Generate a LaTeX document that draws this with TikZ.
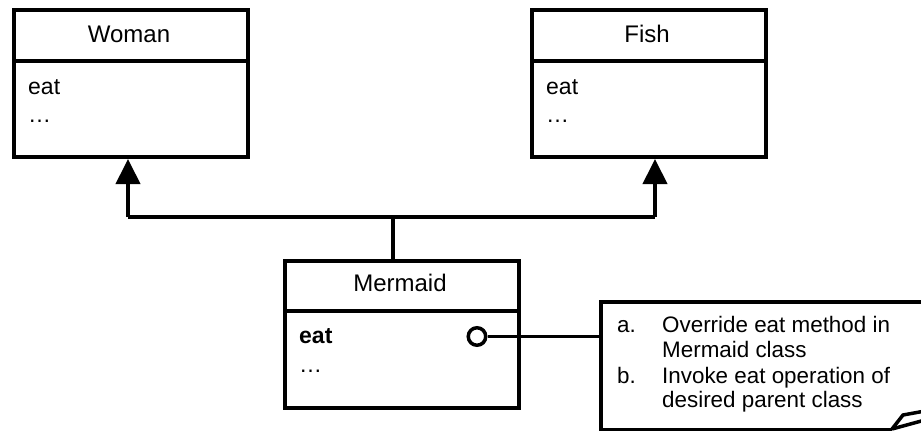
\documentclass[tikz,border=0pt]{standalone}
\usepackage{fontspec}
\setmainfont{Liberation Sans}
\usetikzlibrary{arrows.meta}
\begin{document}
\begin{tikzpicture}[x=1pt,y=-1pt,
  box/.style={draw,line width=4pt,inner sep=0pt,anchor=north west},
  cname/.style={anchor=base,font=\fontsize{24}{28}\selectfont,inner sep=0pt},
  member/.style={anchor=base west,font=\fontsize{23}{28}\selectfont,inner sep=0pt},
  notetext/.style={anchor=base west,font=\fontsize{22.4}{25}\selectfont,inner sep=0pt},
  link/.style={line width=4pt},
  inherit/.style={link,-{Triangle[length=25pt,width=24pt]}}]
\clip (0,0) rectangle (921,431);
\useasboundingbox (0,0) rectangle (921,431);
% Woman
\node[box,minimum width=234pt,minimum height=147pt] (woman) at (12,8) {};
\draw[line width=4pt] (12,61) -- (246,61);
\node[cname] (womanname) at (129,42) {Woman};
\node[member] (womaneat) at (28,94) {eat};
\node[member] (womandots) at (28,122) {\dots};
% Fish
\node[box,minimum width=234pt,minimum height=147pt] (fish) at (530,8) {};
\draw[line width=4pt] (530,61) -- (764,61);
\node[cname] (fishname) at (647,42) {Fish};
\node[member] (fisheat) at (546,94) {eat};
\node[member] (fishdots) at (546,122) {\dots};
% Mermaid
\node[box,minimum width=234pt,minimum height=147pt] (mermaid) at (283,259) {};
\draw[line width=4pt] (283,311) -- (517,311);
\node[cname] (mermaidname) at (400,291) {Mermaid};
\node[member,font=\fontsize{23}{28}\selectfont\bfseries] (mermaideat) at (299,343) {eat};
\node[member] (mermaiddots) at (299,372) {\dots};
% connectors
\coordinate (jw) at (128,217);
\coordinate (jf) at (655,217);
\coordinate (jm) at (393,217);
\draw[link] (jw) -- (jf);
\draw[link] (mermaid.north -| jm) -- (jm);
\draw[inherit] (jw) -- (jw |- woman.south);
\draw[inherit] (jf) -- (jf |- fish.south);
% note
\coordinate (ntl) at (601,302);
\coordinate (nbl) at (601,430);
\draw[line width=4pt,line join=miter] (940,302) -- (ntl) -- (nbl) -- (892,430);
\draw[line width=3.5pt,line join=miter] (892,429) -- (903,415) -- (925,411);
\draw[line width=3.5pt] (892,429) -- (925,420);
\node[notetext] (na) at (617,332) {a.};
\node[notetext] (nat) at (662,332) {Override eat method in};
\node[notetext] (na2) at (662,357) {Mermaid class};
\node[notetext] (nb) at (617,383) {b.};
\node[notetext] (nbt) at (662,383) {Invoke eat operation of};
\node[notetext] (nb2) at (662,407) {desired parent class};
% ball connector
\node[circle,draw,line width=3.5pt,fill=white,minimum size=17.5pt,inner sep=0pt] (ball) at (477,336.5) {};
\draw[line width=3.5pt] (ball.east) -- (ball.east -| ntl);
\end{tikzpicture}
\end{document}
